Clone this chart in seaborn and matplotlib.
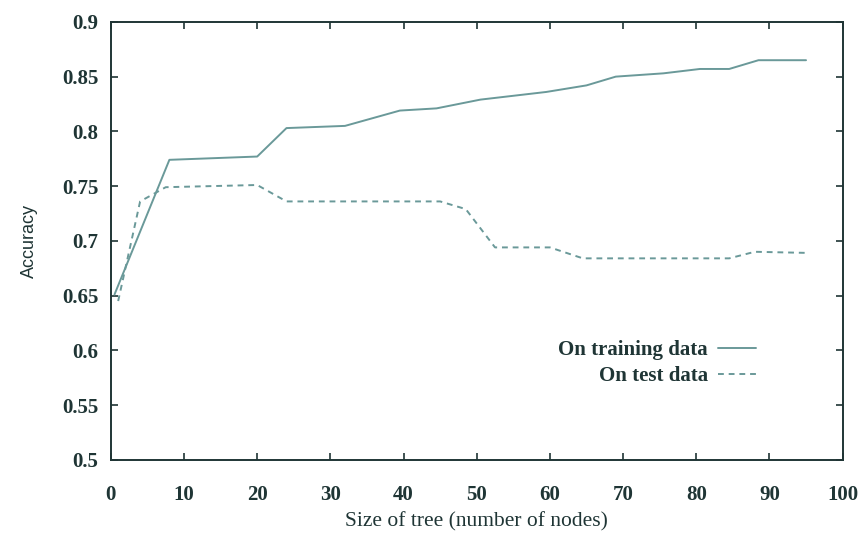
import numpy as np
import pandas as pd
import seaborn as sns
import matplotlib.pyplot as plt

# values
train_size = [0.5, 8, 20, 24, 32, 39.5, 44.5, 50.5, 59.5, 65, 69, 75.5, 80.5, 84.5, 88.5, 95]
train_acc = [0.651, 0.774, 0.777, 0.803, 0.805, 0.819, 0.821, 0.829, 0.836, 0.842, 0.85, 0.853, 0.857, 0.857, 0.865, 0.865]

test_size = [1, 4, 7.5, 20, 24, 45, 48.5, 52.5, 60, 64.5, 84.5, 88, 95]
test_acc = [0.645, 0.736, 0.749, 0.751, 0.736, 0.736, 0.729, 0.694, 0.694, 0.684, 0.684, 0.690, 0.689]

x_ticks = list(range(0, 101, 10))
y_ticks = [0.5, 0.55, 0.6, 0.65, 0.7, 0.75, 0.8, 0.85, 0.9]
y_tick_labels = ["0.5", "0.55", "0.6", "0.65", "0.7", "0.75", "0.8", "0.85", "0.9"]

sns.set_style("ticks")
plt.rcParams['font.family'] = ['Liberation Serif', 'DejaVu Serif']

ink = "#1f3535"
line_col = "#6a9999"

df_train = pd.DataFrame({"size": train_size, "acc": train_acc})
df_test = pd.DataFrame({"size": test_size, "acc": test_acc})

fig = plt.figure(figsize=(8.66, 5.34), dpi=100)
ax = fig.add_axes([0.128, 0.139, 0.845, 0.82])

sns.lineplot(data=df_train, x="size", y="acc", ax=ax, color=line_col, lw=1.4,
             label="On training data")
sns.lineplot(data=df_test, x="size", y="acc", ax=ax, color=line_col, lw=1.4,
             linestyle=(0, (3, 2.5)), label="On test data")

ax.set_xlim(0, 100)
ax.set_ylim(0.5, 0.9)
ax.set_xticks(x_ticks)
ax.set_yticks(y_ticks)
ax.set_yticklabels(y_tick_labels)
ax.tick_params(direction="in", length=5, width=1.2, color=ink, labelcolor=ink,
               labelsize=15, top=True, right=True)
ax.tick_params(axis="x", pad=18)
ax.tick_params(axis="y", pad=9)
for lab in ax.get_xticklabels() + ax.get_yticklabels():
    lab.set_fontweight("bold")
for s in ax.spines.values():
    s.set_color(ink)
    s.set_linewidth(1.4)

ax.set_xlabel("Size of tree (number of nodes)", fontsize=15.5, color=ink, labelpad=5)
ax.set_ylabel("Accuracy", fontsize=13, color=ink, family=['Liberation Sans', 'DejaVu Sans'],
              labelpad=17)

leg = ax.legend(loc="upper left", bbox_to_anchor=(0.6, 0.293), frameon=False, markerfirst=False,
                prop={"size": 15, "weight": "bold"}, handlelength=1.8, handletextpad=0.5,
                labelspacing=0.3, borderaxespad=0)
for t in leg.get_texts():
    t.set_color(ink)
    t.set_ha("right")
leg._legend_box.align = "right"

fig.savefig("out.png", dpi=100)
